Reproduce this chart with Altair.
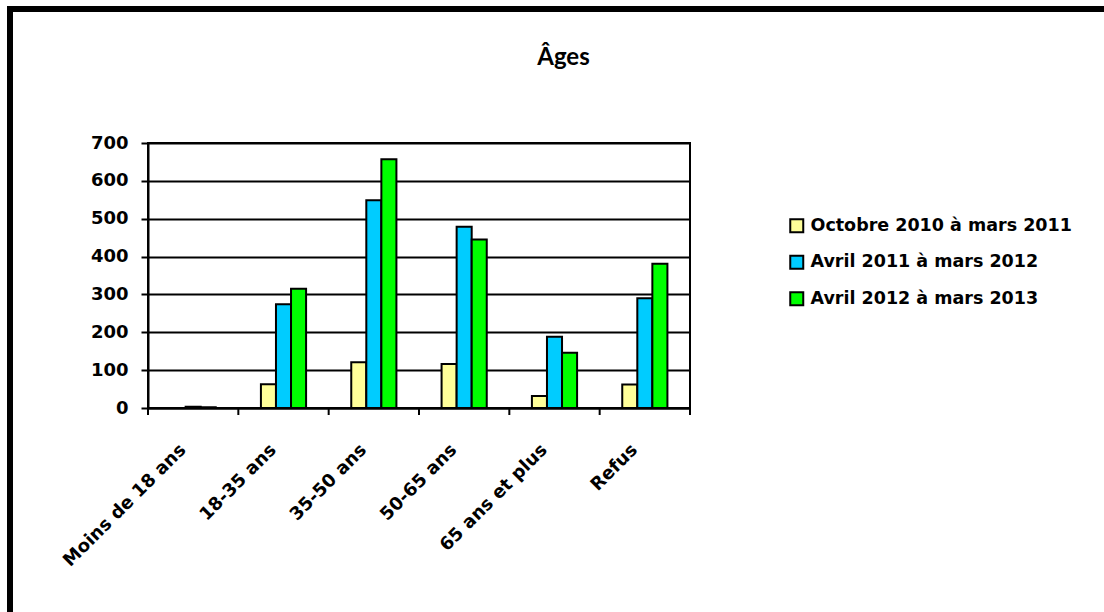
import altair as alt
import pandas as pd

# ---- data ----
title_text = ["Âges"]
categories = ["Moins de 18 ans", "18-35 ans", "35-50 ans", "50-65 ans", "65 ans et plus", "Refus"]
series = ["Octobre 2010 à mars 2011", "Avril 2011 à mars 2012", "Avril 2012 à mars 2013"]
colors = ["#FFFF99", "#00CCFF", "#00FF00"]
vals_2010 = [0, 63, 121, 116, 32, 62]
vals_2011 = [3, 274, 549, 479, 188, 290]
vals_2012 = [2, 315, 657, 445, 146, 381]
y_ticks = [0, 100, 200, 300, 400, 500, 600, 700]

rows = []
for s, vals in zip(series, [vals_2010, vals_2011, vals_2012]):
    for c, v in zip(categories, vals):
        rows.append({"category": c, "series": s, "value": v})
df = pd.DataFrame(rows)
cat_df = pd.DataFrame({"category": categories})
last_df = pd.DataFrame({"category": categories[-1:]})
title_df = pd.DataFrame({"t": title_text})

W, H = 542, 265
FONT = "DejaVu Sans"
BAND = W / len(categories)
GROUP = BAND / 2

x_scale = alt.Scale(domain=categories, paddingInner=0, paddingOuter=0)

frame_left = alt.Chart(title_df).mark_rule(color="black", strokeWidth=6).encode(
    x=alt.value(-138), y=alt.value(-137), y2=alt.value(700)
)
frame_top = alt.Chart(title_df).mark_rule(color="black", strokeWidth=6).encode(
    y=alt.value(-134), x=alt.value(-141), x2=alt.value(1104 - 148 + 10)
)

title = alt.Chart(title_df).mark_text(
    font="Lato", fontWeight="bold", fontSize=24, align="center",
    baseline="alphabetic", color="black"
).encode(
    x=alt.value(415.5), y=alt.value(-78), text="t:N"
)

bars = alt.Chart(df).mark_bar(stroke="black", strokeWidth=2).encode(
    x=alt.X("category:N", scale=x_scale, sort=categories,
            axis=alt.Axis(title=None, labelAngle=-45, labelAlign="right",
                          labelBaseline="middle", labelPadding=39, labelOffset=-10,
                          ticks=False, domain=True, domainColor="black",
                          domainWidth=2, labelFont=FONT, labelFontWeight="bold",
                          labelFontSize=18, labelColor="black", grid=False)),
    xOffset=alt.XOffset("series:N", sort=series,
                        scale=alt.Scale(domain=series, paddingInner=0, paddingOuter=0,
                                        range=[(BAND - GROUP) / 2, (BAND + GROUP) / 2])),
    y=alt.Y("value:Q", scale=alt.Scale(domain=[0, 700], nice=False),
            axis=alt.Axis(title=None, values=y_ticks, tickSize=7, tickColor="black",
                          tickWidth=2, domainColor="black", domainWidth=2,
                          gridColor="black", gridWidth=1.8, gridOpacity=1,
                          labelFont=FONT, labelFontWeight="bold", labelFontSize=18,
                          labelColor="black", labelPadding=13)),
    color=alt.Color("series:N", sort=series,
                    scale=alt.Scale(domain=series, range=colors),
                    legend=alt.Legend(title=None, orient="none", legendX=640, legendY=74,
                                      symbolType="square", symbolSize=169,
                                      symbolStrokeColor="black", symbolStrokeWidth=2,
                                      symbolOpacity=1, labelFont=FONT,
                                      labelFontWeight="bold", labelFontSize=17.5,
                                      labelColor="black", labelOffset=5,
                                      rowPadding=14.5, padding=0, labelLimit=400)),
)

ticks_left = alt.Chart(cat_df).mark_rule(color="black", strokeWidth=2).encode(
    x=alt.X("category:N", scale=x_scale, sort=categories, bandPosition=0),
    y=alt.value(H), y2=alt.value(H + 7),
)
ticks_right = alt.Chart(last_df).mark_rule(color="black", strokeWidth=2).encode(
    x=alt.X("category:N", scale=x_scale, sort=categories, bandPosition=1),
    y=alt.value(H), y2=alt.value(H + 7),
)

chart = alt.layer(frame_left, frame_top, title, bars, ticks_left, ticks_right).properties(
    width=W, height=H,
    autosize=alt.AutoSizeParams(type="none"),
    padding={"left": 148, "top": 143, "right": 1104 - 148 - W, "bottom": 612 - 143 - H},
    background="white",
).configure_view(stroke="black", strokeWidth=2)

chart.save("out.html", embed_options={"renderer": "svg", "actions": False})
